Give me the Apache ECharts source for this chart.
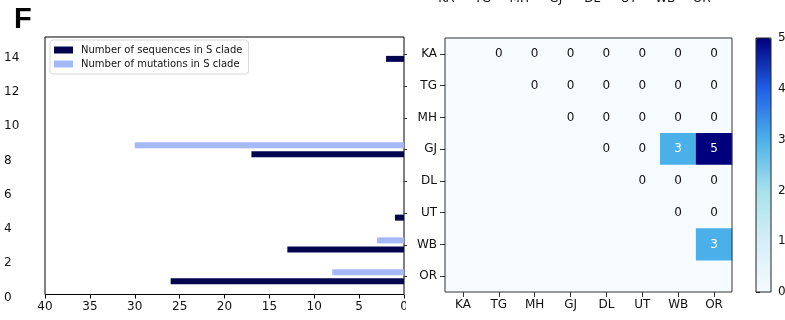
<!DOCTYPE html>
<html>
<head>
<meta charset="utf-8">
<script src="https://cdn.jsdelivr.net/npm/echarts@6/dist/echarts.min.js"></script>
<style>
  html, body { margin: 0; padding: 0; background: #fff; }
  #chart { width: 785px; height: 320px; }
</style>
</head>
<body>
<div id="chart"></div>
<script>
// Regions, in row/column order
const regions = ['KA', 'TG', 'MH', 'GJ', 'DL', 'UT', 'WB', 'OR'];

// Per-region bar values (left panel)
const seqCounts = [2, 0, 0, 17, 0, 1, 13, 26];
const mutCounts = [0, 0, 0, 30, 0, 0, 3, 8];

// Left panel tick values
const barXTicks = [0, 5, 10, 15, 20, 25, 30, 35, 40];
const barYTicks = [0, 2, 4, 6, 8, 10, 12, 14];

// Upper-triangle pair counts: row i lists columns i+1 .. end
const pairCounts = [
  [0, 0, 0, 0, 0, 0, 0],
  [0, 0, 0, 0, 0, 0],
  [0, 0, 0, 0, 0],
  [0, 0, 3, 5],
  [0, 0, 0],
  [0, 0],
  [3],
  []
];

// Colour bar ticks
const cbarTicks = [0, 1, 2, 3, 4, 5];

const FONT = 'DejaVu Sans';
const DARK = '#03064f';
const LIGHT = '#a5b9f9';

const heatData = [];
pairCounts.forEach((row, i) => {
  row.forEach((v, k) => {
    const j = i + 1 + k;
    heatData.push({
      value: [j, i, v],
      label: { color: v >= 2 ? '#ffffff' : '#111111' }
    });
  });
});

const chart = echarts.init(document.getElementById('chart'), null, { renderer: 'canvas' });

const hiddenX = (g) => ({ gridIndex: g, type: 'value', show: false });
const hiddenY = (g) => ({ gridIndex: g, type: 'value', show: false });
// fixed-position grids: never shrink to keep labels inside the canvas
const fixedGrid = (g) => Object.assign({ outerBoundsMode: 'none', containLabel: false }, g);

const option = {
  animation: false,
  backgroundColor: '#ffffff',
  textStyle: { fontFamily: FONT },
  title: {
    text: 'F', left: 14, top: 5, padding: 0,
    textStyle: { fontFamily: 'Liberation Sans', fontWeight: 'bold', fontSize: 29, color: '#000' }
  },
  legend: {
    data: ['Number of sequences in S clade', 'Number of mutations in S clade'],
    orient: 'vertical', left: 50, top: 40,
    padding: [3, 6, 3, 4],
    itemWidth: 19, itemHeight: 7, itemGap: 0,
    icon: 'rect',
    backgroundColor: '#fff', borderColor: '#d8d8d8', borderWidth: 1, borderRadius: 3,
    textStyle: { fontFamily: FONT, fontSize: 10, lineHeight: 14, color: '#111', padding: [0, 0, 0, 3] },
    selectedMode: false
  },
  visualMap: {
    type: 'continuous', seriesIndex: 2,
    min: 0, max: 5, calculable: false, showLabel: false, text: null,
    orient: 'vertical', left: 756, top: 38, padding: 0,
    itemWidth: 15, itemHeight: 254,
    inRange: { color: ['#f5fbfe', '#d5eef8', '#a6e1ec', '#4bb0ea', '#1f5fe8', '#00007d'] }
  },
  grid: [
    // 0: bar panel frame + x ticks
    fixedGrid({ left: 45, top: 37, width: 359, height: 257.5, show: true, borderColor: '#000', borderWidth: 1, backgroundColor: 'transparent' }),
    // 1: bars, rows aligned with the matrix rows
    fixedGrid({ left: 45, top: 38.5, width: 359, height: 254 }),
    // 2: matrix cells (background only)
    fixedGrid({ left: 445, top: 38, width: 287, height: 254, show: true, borderWidth: 0, backgroundColor: '#f5fbfe' }),
    // 3: colour bar frame + ticks
    fixedGrid({ left: 756, top: 38, width: 15, height: 254, show: true, borderColor: '#222', borderWidth: 1, backgroundColor: 'transparent', z: 10 }),
    // 4: axis labels of the panel above, clipped at the top edge
    fixedGrid({ left: 428, top: -30, width: 292, height: 20 }),
    // 5: y tick labels of the bar panel
    fixedGrid({ left: 45, top: 40.4, width: 359, height: 257.1 }),
    // 6: matrix frame, drawn above the cells
    fixedGrid({ left: 445, top: 38, width: 287, height: 254, show: true, borderColor: '#333', borderWidth: 1, backgroundColor: 'transparent', z: 10 })
  ],
  xAxis: [
    {
      gridIndex: 0, type: 'value', inverse: true, min: 0, max: 40, interval: 5,
      axisLine: { show: false }, splitLine: { show: false },
      axisTick: { show: true, length: 4, lineStyle: { color: '#000' } },
      axisLabel: { fontFamily: FONT, fontSize: 12, color: '#111', margin: 6 }
    },
    { gridIndex: 1, type: 'value', inverse: true, min: 0, max: 40, show: false },
    {
      gridIndex: 2, type: 'category', data: regions, position: 'bottom',
      axisLine: { show: false }, splitLine: { show: false },
      axisTick: { show: true, alignWithLabel: true, length: 5, lineStyle: { color: '#333' } },
      axisLabel: { fontFamily: FONT, fontSize: 12, color: '#111', margin: 7 }
    },
    hiddenX(3),
    {
      gridIndex: 4, type: 'category', data: regions, position: 'bottom',
      axisLine: { show: false }, axisTick: { show: false },
      axisLabel: { fontFamily: FONT, fontSize: 12, color: '#111', margin: 3 }
    },
    hiddenX(5),
    hiddenX(6)
  ],
  yAxis: [
    hiddenY(0),
    {
      gridIndex: 1, type: 'category', data: regions, inverse: true, position: 'right',
      axisLine: { show: false }, splitLine: { show: false },
      axisTick: { show: true, alignWithLabel: true, length: 3, lineStyle: { color: '#333' } },
      axisLabel: { show: false }
    },
    {
      gridIndex: 2, type: 'category', data: regions, inverse: true,
      axisLine: { show: false }, splitLine: { show: false },
      axisTick: { show: true, alignWithLabel: true, length: 5, lineStyle: { color: '#333' } },
      axisLabel: { fontFamily: FONT, fontSize: 12, color: '#111', margin: 8 }
    },
    {
      gridIndex: 3, type: 'value', min: 0, max: 5, position: 'right',
      axisLine: { show: false }, splitLine: { show: false },
      axisTick: { show: true, customValues: cbarTicks, length: 4, lineStyle: { color: '#222' } },
      axisLabel: { customValues: cbarTicks, fontFamily: FONT, fontSize: 12, color: '#111', margin: 7 }
    },
    hiddenY(4),
    {
      gridIndex: 5, type: 'value', min: 0, max: 15,
      axisLine: { show: false }, splitLine: { show: false }, axisTick: { show: false },
      axisLabel: {
        customValues: barYTicks, fontFamily: FONT, fontSize: 12, color: '#111',
        align: 'left', margin: 41
      }
    },
    hiddenY(6)
  ],
  series: [
    {
      name: 'Number of mutations in S clade', type: 'bar',
      xAxisIndex: 1, yAxisIndex: 1,
      data: mutCounts, barWidth: 6, barGap: '50%',
      itemStyle: { color: LIGHT }
    },
    {
      name: 'Number of sequences in S clade', type: 'bar',
      xAxisIndex: 1, yAxisIndex: 1,
      data: seqCounts, barWidth: 6, barGap: '50%',
      itemStyle: { color: DARK }
    },
    {
      name: 'pairs', type: 'heatmap',
      xAxisIndex: 2, yAxisIndex: 2,
      data: heatData,
      label: { show: true, fontFamily: FONT, fontSize: 12 },
      itemStyle: { borderWidth: 0 },
      emphasis: { disabled: true }
    }
  ],
  graphic: [
    { type: 'rect', left: 406, top: 298, shape: { width: 10, height: 16 }, style: { fill: '#fff' }, z: 100 }
  ]
};

chart.setOption(option);
</script>
</body>
</html>
